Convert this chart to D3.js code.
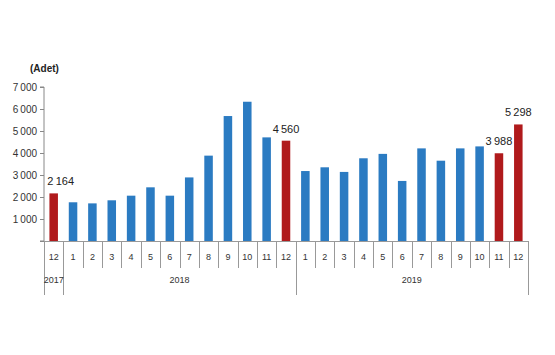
<!DOCTYPE html>
<html>
<head>
<meta charset="utf-8">
<script src="https://cdn.jsdelivr.net/npm/d3@7/dist/d3.min.js"></script>
<style>
  html, body { margin: 0; padding: 0; background: #fff; }
  svg { display: block; font-family: Arial, 'Liberation Sans', sans-serif; }
</style>
</head>
<body>
<div id="chart"></div>
<script>
// ─── Data ───
const months = ['12', '1', '2', '3', '4', '5', '6', '7', '8', '9', '10', '11', '12',
                '1', '2', '3', '4', '5', '6', '7', '8', '9', '10', '11', '12'];
const years = ['2017', '2018', '2018', '2018', '2018', '2018', '2018', '2018', '2018', '2018', '2018', '2018', '2018',
               '2019', '2019', '2019', '2019', '2019', '2019', '2019', '2019', '2019', '2019', '2019', '2019'];
const values = [2164, 1760, 1710, 1850, 2060, 2440, 2060, 2890, 3880, 5680, 6330, 4710, 4560,
                3180, 3350, 3140, 3760, 3960, 2730, 4210, 3650, 4210, 4300, 3988, 5298];
const highlighted = [0, 12, 23, 24];
const yTicks = [1000, 2000, 3000, 4000, 5000, 6000, 7000];

const W = 555, H = 355;
const m = { left: 44, right: 27, top: 87, bottom: 114 };
const blue = '#2B7BC2', red = '#B01A1C';
const fmt = v => d3.format(',')(v).replace(/,/g, '\u2009');

const svg = d3.select('#chart').append('svg')
  .attr('width', W).attr('height', H);

const keys = months.map((d, i) => i);
const x = d3.scaleBand().domain(keys).range([m.left, W - m.right]).paddingInner(0.56).paddingOuter(0.28);
const xs = d3.scaleBand().domain(keys).range([m.left, W - m.right]);
const y = d3.scaleLinear().domain([0, 7000]).range([H - m.bottom, m.top]);
const base = y(0);

// ─── Y axis ───
const yAxis = svg.append('g')
  .attr('transform', `translate(${m.left},0)`)
  .call(d3.axisLeft(y).tickValues([0, ...yTicks]).tickSize(4).tickFormat(d => d ? fmt(d) : ''));
yAxis.select('.domain').attr('stroke', '#888').attr('d', `M-4,${base}H0V${y(7000)}H-4`);
yAxis.selectAll('.tick line').attr('stroke', '#888');
yAxis.selectAll('.tick text').attr('fill', '#333').attr('font-size', '10px').attr('x', -7);

svg.append('text')
  .attr('x', 30).attr('y', 72)
  .attr('font-size', '10px').attr('font-weight', 'bold').attr('fill', '#222')
  .text('(Adet)');

// ─── Bars ───
svg.append('g').selectAll('rect')
  .data(values)
  .join('rect')
  .attr('x', (d, i) => x(i))
  .attr('width', x.bandwidth())
  .attr('y', d => y(d))
  .attr('height', d => base - y(d))
  .attr('fill', (d, i) => highlighted.includes(i) ? red : blue);

// ─── Value labels ───
const labelled = [0, 12, 23, 24];
svg.append('g').selectAll('text')
  .data(labelled)
  .join('text')
  .attr('x', i => x(i) + x.bandwidth() / 2 + (i === 0 ? 7 : 0))
  .attr('y', i => y(values[i]) - 8)
  .attr('text-anchor', 'middle')
  .attr('font-size', '11px')
  .attr('fill', '#222')
  .text(i => fmt(values[i]));

// ─── Category axis (months + years) ───
const axisG = svg.append('g').attr('stroke', '#999').attr('stroke-width', 1);
const xEnd = W - m.right;
axisG.append('line').attr('x1', m.left).attr('x2', xEnd).attr('y1', base + 0.5).attr('y2', base + 0.5);

const yearBoundaries = [];
keys.forEach(i => { if (i === 0 || years[i] !== years[i - 1]) yearBoundaries.push(i); });

keys.forEach(i => {
  const xx = Math.round(xs(i)) + 0.5;
  const isYear = yearBoundaries.includes(i);
  axisG.append('line').attr('x1', xx).attr('x2', xx)
    .attr('y1', base).attr('y2', isYear ? base + 54 : base + 27);
});
axisG.append('line').attr('x1', Math.round(xEnd) + 0.5).attr('x2', Math.round(xEnd) + 0.5)
  .attr('y1', base).attr('y2', base + 54);

svg.append('g').selectAll('text')
  .data(keys)
  .join('text')
  .attr('x', i => xs(i) + xs.bandwidth() / 2)
  .attr('y', base + 19)
  .attr('text-anchor', 'middle')
  .attr('font-size', '9px')
  .attr('fill', '#333')
  .text(i => months[i]);

const yearGroups = d3.groups(keys, i => years[i]);
svg.append('g').selectAll('text')
  .data(yearGroups)
  .join('text')
  .attr('x', ([, idx]) => (xs(idx[0]) + xs(idx[idx.length - 1]) + xs.bandwidth()) / 2)
  .attr('y', base + 45)
  .attr('text-anchor', 'middle')
  .attr('font-size', '9px')
  .attr('fill', '#333')
  .text(([yr]) => yr)
  .attr('y', base + 42);
</script>
</body>
</html>
